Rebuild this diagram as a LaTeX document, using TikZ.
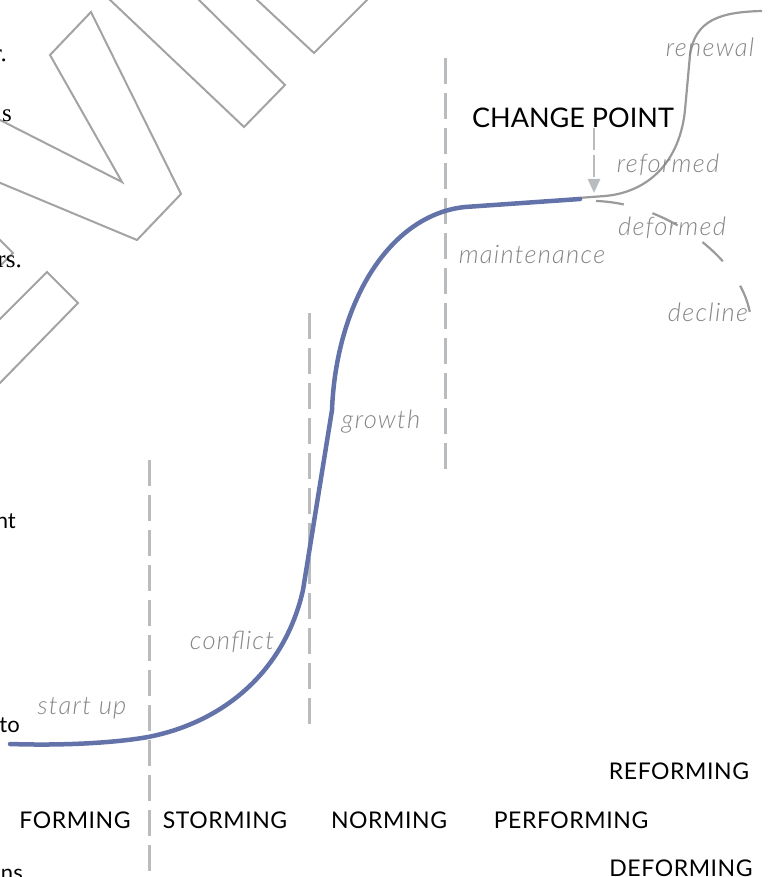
\documentclass[tikz,border=0pt]{standalone}
\usepackage{fontspec}
\usetikzlibrary{arrows.meta}
\newfontfamily\capsfont{Lato}
\newfontfamily\capswide{Lato}[LetterSpace=2.5]
\newfontfamily\lightit{Lato Light Italic}[LetterSpace=5]
\newfontfamily\serfont{Liberation Serif}
\definecolor{curveblue}{HTML}{6373AA}
\definecolor{outlinegray}{HTML}{A3A3A3}
\definecolor{dashgray}{HTML}{B9BCBF}
\definecolor{labelgray}{HTML}{858585}
\definecolor{branchgray}{HTML}{9A9A9A}
\tikzset{
  letteroutline/.style={draw=outlinegray, line width=2pt, line join=miter},
  phaseline/.style={draw=dashgray, line width=3pt, dash pattern=on 26pt off 9pt},
  scurve/.style={draw=curveblue, line width=4.5pt, line cap=round},
  branch/.style={draw=branchgray, line width=2.2pt},
  phaselabel/.style={inner sep=0pt, anchor=base, font=\capswide\fontsize{23}{25}\selectfont, text=black},
  stagelabel/.style={inner sep=0pt, anchor=base, font=\lightit\fontsize{25.5}{27}\selectfont, text=labelgray},
  fragserif/.style={inner sep=0pt, anchor=base east, font=\serfont\fontsize{25}{27}\selectfont, text=black},
  fragsans/.style={inner sep=0pt, anchor=base east, font=\capsfont\fontsize{22}{24}\selectfont, text=black}
}
\begin{document}
\begin{tikzpicture}[x=1pt,y=-1pt]
\useasboundingbox (0,0) rectangle (773,877);
\clip (0,0) rectangle (773,877);
% watermark letter outlines
\draw[letteroutline] (-2,119) -- (122,182) -- (50,55) -- (91,12) -- (181,194) -- (137,240) -- (-2,182);
\draw[letteroutline] (108,-2) -- (244,127) -- (285,85) -- (197,-2);
\draw[letteroutline] (255,-2) -- (314,53) -- (369,-2);
\draw[letteroutline] (-2,238) -- (13,253) -- (-2,268);
\draw[letteroutline] (-2,321) -- (47,272) -- (78,303) -- (-2,385);
% clipped text fragments
\node[fragserif] (f1) at (7,62) {r.};
\node[fragserif] (f2) at (12,122) {s};
\node[fragserif] (f3) at (22,267) {rs.};
\node[fragsans] (f4) at (16,528) {nt};
\node[fragsans] (f5) at (20,732) {to};
\node[fragsans] (f6) at (23,880) {ns};
% phase separators
\draw[phaseline] (149,460) -- (149,880);
\draw[phaseline] (309,313) -- (309,731);
\draw[phaseline] (445,58) -- (445,478);
% branches after change point
\draw[branch] (578,198) -- (605,196) .. controls (650,192) and (680,160) .. (685,110) -- (690,55) .. controls (695,20) and (720,12) .. (762,11);
\draw[branch, dash pattern=on 28pt off 30pt] (596,201) .. controls (665,203) and (745,258) .. (751,320);
% main S curve
\draw[scurve] (10,744) .. controls (70,746) and (120,742) .. (148,737) .. controls (225,722) and (285,670) .. (303,590) -- (332,410) .. controls (336,305) and (388,215) .. (465,207) -- (580,199);
% change point arrow
\node[inner sep=0pt, anchor=base, font=\capsfont\fontsize{27}{29}\selectfont] (cp) at (573,128) {CHANGE POINT};
\coordinate (arrtop) at (594,128);
\coordinate (arrbot) at (594,193);
\draw[draw=dashgray, line width=2.5pt, dash pattern=on 22pt off 5pt, -{Triangle[width=12pt,length=14pt]}] (arrtop) -- (arrbot);
% stage labels
\node[stagelabel] (l1) at (82,714) {start up};
\node[stagelabel] (l2) at (232,649) {conflict};
\node[stagelabel] (l3) at (381,428) {growth};
\node[stagelabel] (l4) at (532,263) {maintenance};
\node[stagelabel] (l5) at (668,173) {reformed};
\node[stagelabel] (l6) at (672,236) {deformed};
\node[stagelabel] (l7) at (708,321) {decline};
\node[stagelabel] (l8) at (710,57) {renewal};
% phase names
\node[phaselabel] (p1) at (75,828) {FORMING};
\node[phaselabel] (p2) at (225,828) {STORMING};
\node[phaselabel] (p3) at (389,828) {NORMING};
\node[phaselabel] (p4) at (571,828) {PERFORMING};
\node[phaselabel] (p5) at (679,779) {REFORMING};
\node[phaselabel] (p6) at (681,876) {DEFORMING};
\end{tikzpicture}
\end{document}
